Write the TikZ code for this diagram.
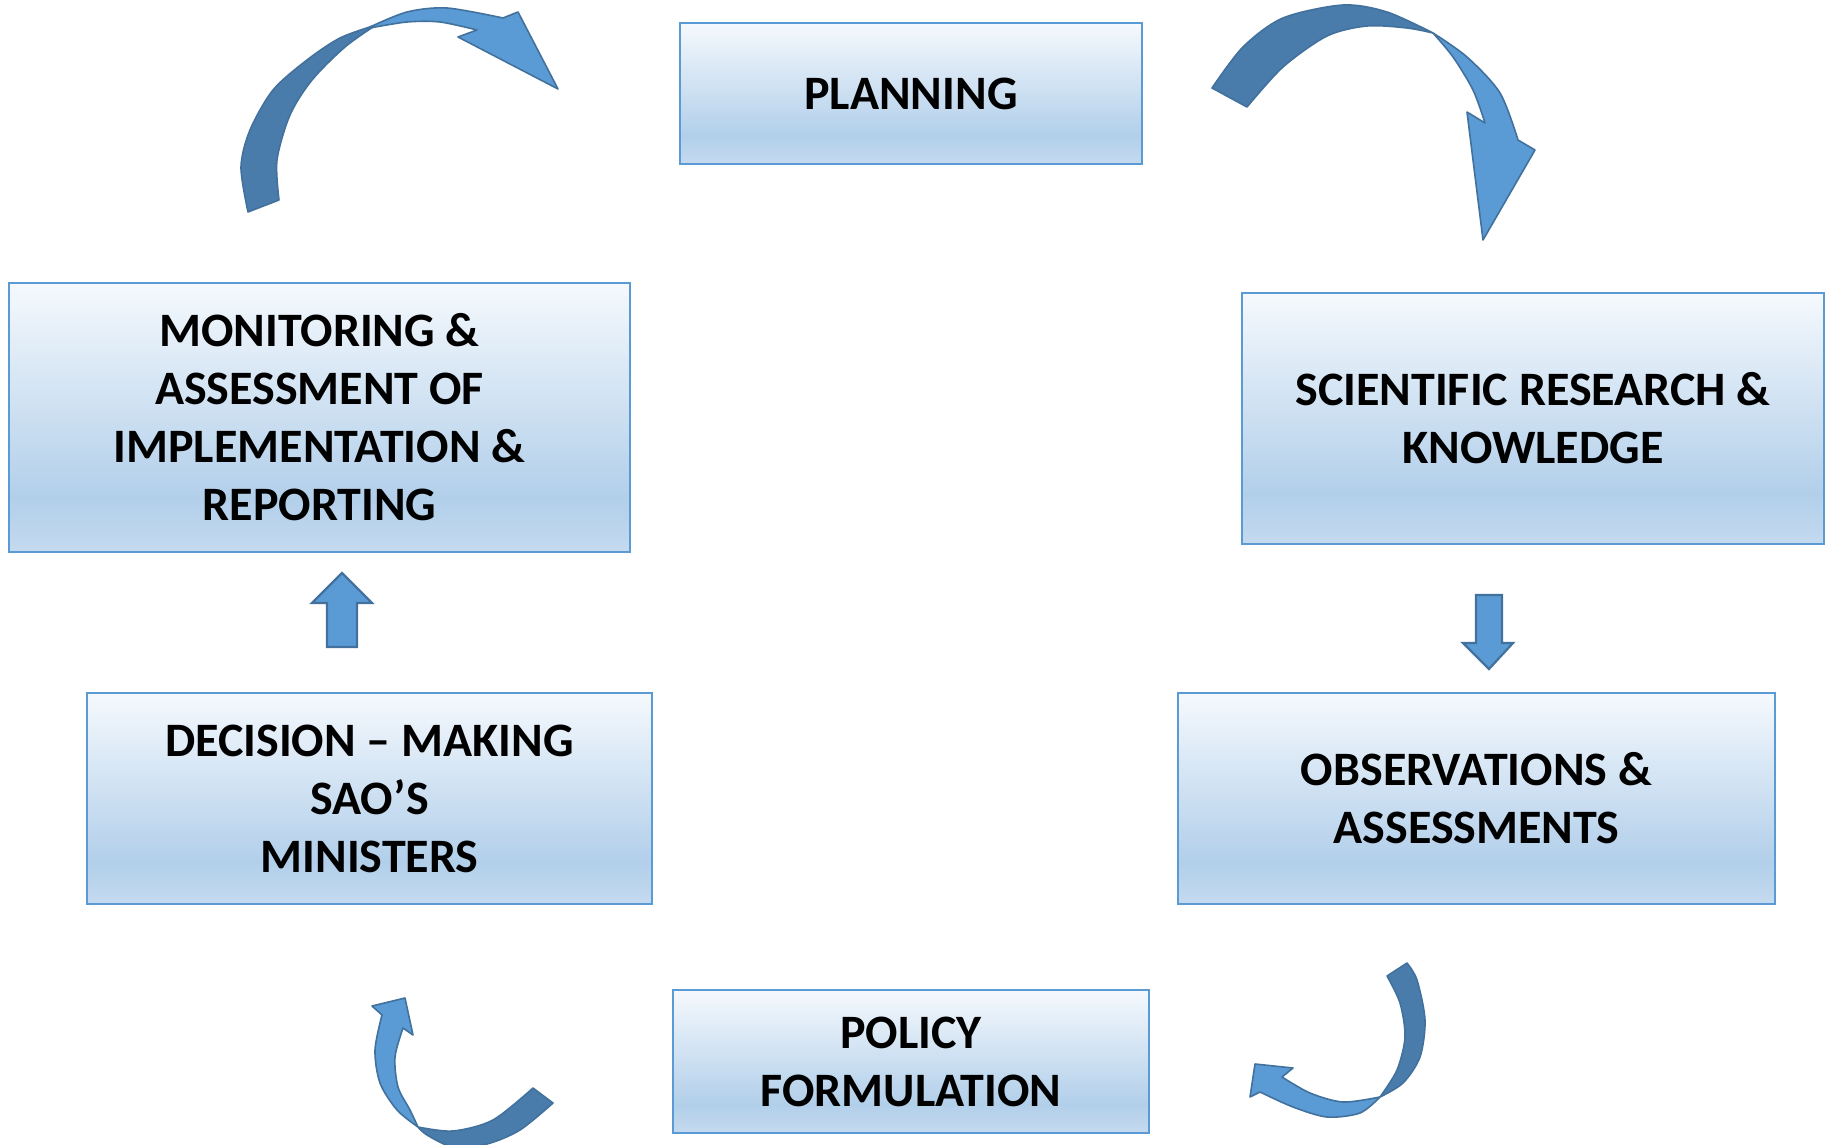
\documentclass[tikz,border=0pt]{standalone}
\usepackage{fontspec}
\setmainfont{Carlito}
\definecolor{alight}{HTML}{5B9BD5}
\definecolor{adark}{HTML}{4A7CAB}
\definecolor{aline}{HTML}{41719C}
\definecolor{bborder}{HTML}{5B9BD5}
\definecolor{bshA}{HTML}{F5F9FD}
\definecolor{bshB}{HTML}{B2CFEA}
\definecolor{bshC}{HTML}{C4DAEF}
\pgfdeclareverticalshading{boxshade}{100bp}{color(0bp)=(bshC); color(25bp)=(bshC); color(35bp)=(bshB); color(75bp)=(bshA); color(100bp)=(bshA)}
\tikzset{
  box/.style={draw=bborder, line width=2pt, shading=boxshade, align=center, inner sep=0pt,
    font=\bfseries\fontsize{48}{58}\selectfont, text=black},
  alightpart/.style={fill=alight, draw=aline, line width=1.6pt, line join=round},
  adarkpart/.style={fill=adark, draw=aline, line width=1.6pt, line join=round},
  blockarr/.style={fill=alight, draw=aline, line width=2.2pt, line join=miter}
}
\begin{document}
\begin{tikzpicture}[x=1pt,y=-1pt]
\useasboundingbox (0,0) rectangle (1829,1145);
% boxes
\node[box, minimum width=462pt, minimum height=141pt] (plan) at (911,93.5) {PLANNING};
\node[box, minimum width=621pt, minimum height=269pt] (mon) at (319.5,417.5) {MONITORING \&\\ASSESSMENT OF\\IMPLEMENTATION \&\\REPORTING};
\node[box, minimum width=582pt, minimum height=251pt] (sci) at (1533,418.5) {SCIENTIFIC RESEARCH \&\\KNOWLEDGE};
\node[box, minimum width=565pt, minimum height=211pt] (dec) at (369.5,798.5) {DECISION – MAKING\\SAO’S\\MINISTERS};
\node[box, minimum width=597pt, minimum height=211pt] (obs) at (1476.5,798.5) {OBSERVATIONS \&\\ASSESSMENTS};
\node[box, minimum width=476pt, minimum height=143pt] (pol) at (911,1061.5) {POLICY\\FORMULATION};

% arrow 1 (top-left, towards PLANNING)
\filldraw[adarkpart] plot[smooth] coordinates {(248,212) (241,167) (250,130) (273,90) (307,60) (340,38) (376,25)}
  -- plot[smooth] coordinates {(376,25) (345,47) (312,80) (290,115) (277,160) (279,200)} -- cycle;
\filldraw[alightpart] plot[smooth] coordinates {(370,27) (407,12) (447,8) (503,18)}
  -- (518,12) -- (558,89) -- (458,37) -- (477,30)
  -- plot[smooth] coordinates {(477,30) (440,22) (407,22) (370,28)} -- cycle;

% arrow 2 (top-right, towards SCIENTIFIC)
\filldraw[adarkpart] plot[smooth] coordinates {(1212,88) (1243,47) (1283,18) (1343,5) (1387,12) (1433,33)}
  -- plot[smooth] coordinates {(1433,33) (1407,28) (1367,26) (1327,36) (1283,67) (1247,107)} -- cycle;
\filldraw[alightpart] plot[smooth] coordinates {(1433,33) (1467,57) (1500,93) (1518,140)}
  -- (1535,150) -- (1483,240) -- (1467,112) -- (1485,123)
  -- plot[smooth] coordinates {(1485,123) (1473,90) (1453,57) (1433,33)} -- cycle;

% arrow 3 (bottom-left, towards DECISION)
\filldraw[adarkpart] plot[smooth] coordinates {(553,1103) (520,1130) (487,1144) (453,1147) (427,1135) (418,1127)}
  -- plot[smooth] coordinates {(418,1127) (453,1131) (493,1120) (533,1088)} -- cycle;
\filldraw[alightpart] plot[smooth] coordinates {(418,1127) (397,1110) (380,1083) (375,1050) (382,1015)}
  -- (372,1006) -- (405,998) -- (413,1035) -- (403,1028)
  -- plot[smooth] coordinates {(403,1028) (395,1057) (398,1087) (410,1110) (418,1127)} -- cycle;

% arrow 4 (bottom-right, towards POLICY)
\filldraw[adarkpart] plot[smooth] coordinates {(1407,963) (1417,980) (1425,1020) (1420,1057) (1403,1083) (1380,1097)}
  -- plot[smooth] coordinates {(1380,1097) (1397,1070) (1405,1037) (1400,1003) (1387,976)} -- cycle;
\filldraw[alightpart] plot[smooth] coordinates {(1380,1097) (1360,1113) (1327,1117) (1293,1107) (1260,1092)}
  -- (1250,1097) -- (1255,1064) -- (1293,1068) -- (1282,1077)
  -- plot[smooth] coordinates {(1282,1077) (1310,1093) (1343,1102) (1380,1097)} -- cycle;

% block arrows
\filldraw[blockarr] (327,647) -- (327,603) -- (312,603) -- (342,573) -- (372,603) -- (357,603) -- (357,647) -- cycle;
\filldraw[blockarr] (1476,595) -- (1502,595) -- (1502,643) -- (1513,643) -- (1489,669) -- (1463,643) -- (1476,643) -- cycle;
\end{tikzpicture}
\end{document}
